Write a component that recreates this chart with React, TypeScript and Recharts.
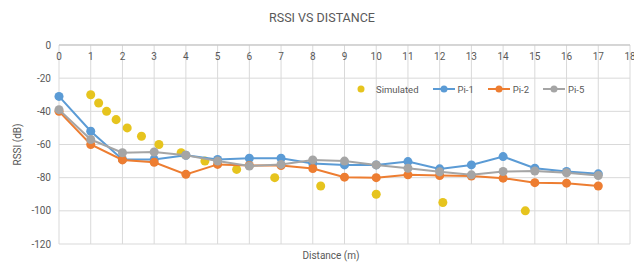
import React from "react";
import {
  ScatterChart,
  Scatter,
  XAxis,
  YAxis,
  ZAxis,
  CartesianGrid,
} from "recharts";

// distance (m) for the measured series
const distance = [0, 1, 2, 3, 4, 5, 6, 7, 8, 9, 10, 11, 12, 13, 14, 15, 16, 17];
const pi1 = [-31, -52, -69, -69, -66.5, -69, -68.3, -68.3, -71.5, -72.3, -72.3, -70.3, -74.7, -72.3, -67.3, -74.3, -76.3, -77.7];
const pi2 = [-40, -60, -69.3, -70.7, -78, -72, -72.7, -72.7, -74.5, -79.7, -80, -78.3, -78.7, -79, -80.3, -83, -83.3, -85];
const pi5 = [-39, -57, -65, -64.5, -66.5, -70, -73, -72, -69.3, -70, -72.3, -74.3, -76.5, -78.3, -76.3, -76, -77, -78.7];

// simulated path-loss model
const simDistance = [1, 1.25, 1.5, 1.8, 2.15, 2.6, 3.15, 3.85, 4.6, 5.6, 6.8, 8.25, 10, 12.1, 14.7];
const simRssi = [-30, -35, -40, -45, -50, -55, -60, -65, -70, -75, -80, -85, -90, -95, -100];

const xTicks = [0, 1, 2, 3, 4, 5, 6, 7, 8, 9, 10, 11, 12, 13, 14, 15, 16, 17, 18];
const yTicks = [0, -20, -40, -60, -80, -100, -120];

const COLORS = {
  sim: "#E6C41E",
  pi1: "#5B9BD5",
  pi2: "#ED7D31",
  pi5: "#A5A5A5",
};

const FONT = "Roboto, 'Noto Sans', sans-serif";
const TEXT = "#595959";

const toPoints = (ys: number[]) => distance.map((x, i) => ({ x, y: ys[i] }));
const simPoints = simDistance.map((x, i) => ({ x, y: simRssi[i] }));

const LEGEND = [
  { name: "Simulated", color: COLORS.sim, line: false },
  { name: "Pi-1", color: COLORS.pi1, line: true },
  { name: "Pi-2", color: COLORS.pi2, line: true },
  { name: "Pi-5", color: COLORS.pi5, line: true },
];

export default function App() {
  const tickStyle = { fontSize: 10, fill: TEXT, fontFamily: FONT };
  return (
    <div style={{ position: "absolute", left: 0, top: 0, width: 634, height: 266, background: "#fff", fontFamily: FONT }}>
      <div
        style={{
          position: "absolute",
          top: 10,
          left: 0,
          width: 644,
          textAlign: "center",
          fontSize: 12.5,
          color: TEXT,
        }}
      >
        RSSI VS DISTANCE
      </div>

      <ScatterChart width={634} height={266} margin={{ top: 45, right: 4, bottom: 22, left: 0 }}>
        <CartesianGrid stroke="#D9D9D9" strokeWidth={1} />
        <XAxis
          type="number"
          dataKey="x"
          orientation="top"
          mirror
          domain={[0, 18]}
          ticks={xTicks}
          interval={0}
          tick={tickStyle}
          tickLine={false}
          axisLine={{ stroke: "#BFBFBF" }}
        />
        <YAxis
          type="number"
          dataKey="y"
          width={59}
          domain={[-120, 0]}
          ticks={yTicks}
          interval={0}
          tick={tickStyle}
          tickLine={false}
          axisLine={false}
          label={{
            value: "RSSI (dB)",
            angle: -90,
            position: "center",
            dx: -12,
            style: { fontSize: 10, fill: TEXT, fontFamily: FONT },
          }}
        />
        <ZAxis range={[42, 42]} />
        <Scatter name="Simulated" data={simPoints} fill={COLORS.sim} isAnimationActive={false} />
        <Scatter
          name="Pi-1"
          data={toPoints(pi1)}
          fill={COLORS.pi1}
          line={{ stroke: COLORS.pi1, strokeWidth: 2 }}
          isAnimationActive={false}
        />
        <Scatter
          name="Pi-2"
          data={toPoints(pi2)}
          fill={COLORS.pi2}
          line={{ stroke: COLORS.pi2, strokeWidth: 2 }}
          isAnimationActive={false}
        />
        <Scatter
          name="Pi-5"
          data={toPoints(pi5)}
          fill={COLORS.pi5}
          line={{ stroke: COLORS.pi5, strokeWidth: 2 }}
          isAnimationActive={false}
        />
      </ScatterChart>

      {/* legend sits inside the plot, like the Excel original */}
      <div
        style={{
          position: "absolute",
          top: 83,
          left: 355,
          display: "flex",
          alignItems: "center",
          fontSize: 9.5,
          color: TEXT,
        }}
      >
        {LEGEND.map((item) => (
          <div key={item.name} style={{ display: "flex", alignItems: "center", marginRight: 14 }}>
            <svg width={item.line ? 22 : 12} height={12} style={{ marginRight: 3 }}>
              {item.line && <line x1={0} x2={22} y1={6} y2={6} stroke={item.color} strokeWidth={2} />}
              <circle cx={item.line ? 11 : 6} cy={6} r={3.5} fill={item.color} />
            </svg>
            <span style={{ marginLeft: item.line ? 0 : 6 }}>{item.name}</span>
          </div>
        ))}
      </div>

      <div
        style={{
          position: "absolute",
          top: 250,
          left: 0,
          width: 662,
          textAlign: "center",
          fontSize: 10,
          color: TEXT,
        }}
      >
        Distance (m)
      </div>
    </div>
  );
}
